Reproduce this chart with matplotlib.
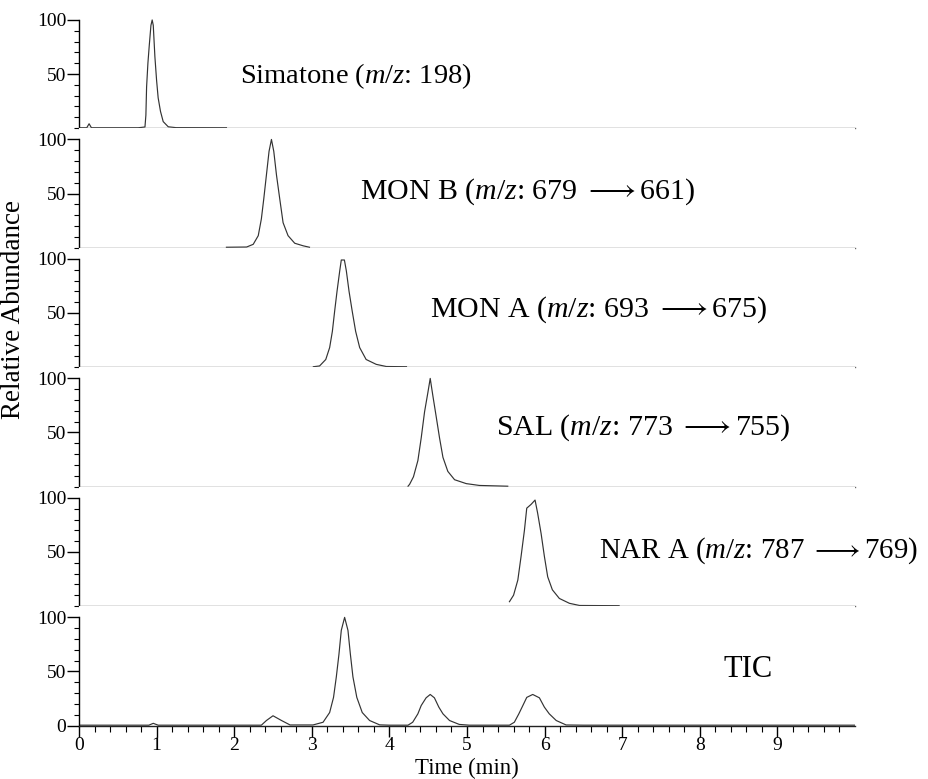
import matplotlib
matplotlib.use("Agg")
import matplotlib.pyplot as plt
from matplotlib.ticker import FixedLocator

plt.rcParams['font.family'] = ['Liberation Serif', 'DejaVu Serif']
plt.rcParams['mathtext.fontset'] = 'custom'
plt.rcParams['mathtext.rm'] = 'Liberation Serif'
plt.rcParams['mathtext.it'] = 'Liberation Serif:italic'
plt.rcParams['mathtext.fallback'] = 'stix'

# ---- data (time in min, relative abundance in %) ----
simatone_t = [0.0, 0.10, 0.13, 0.16, 0.20, 0.763, 0.85, 0.862, 0.871, 0.888, 0.905, 0.927, 0.943,
              0.957, 0.978, 1.0, 1.02, 1.05, 1.085, 1.15, 1.25, 1.9]
simatone_v = [0.3, 0.3, 4, 0.3, 0.3, 0.3, 1, 12, 38, 60, 76, 95, 100,
              95, 66, 44, 28, 15.5, 6, 1.2, 0.4, 0.3]

monb_t = [1.9, 2.16, 2.245, 2.31, 2.35, 2.381, 2.415, 2.449, 2.48, 2.51, 2.545, 2.587, 2.63,
          2.694, 2.78, 2.89, 2.97]
monb_v = [0.3, 0.5, 3, 11, 26.5, 45, 67, 89, 100, 89, 67, 45, 23, 11, 4, 1.6, 0.3]

mona_t = [3.02, 3.10, 3.18, 3.23, 3.265, 3.295, 3.325, 3.36, 3.38, 3.42, 3.445, 3.48, 3.52,
          3.565, 3.617, 3.70, 3.83, 3.96, 4.22]
mona_v = [0.3, 1, 7, 18, 33, 52, 70, 89, 99, 99, 89, 70, 52, 33, 18, 7, 2.5, 0.5, 0.3]

sal_t = [4.24, 4.26, 4.31, 4.367, 4.41, 4.453, 4.496, 4.526, 4.56, 4.60, 4.646, 4.69, 4.753,
         4.84, 4.99, 5.16, 5.525]
sal_v = [0.3, 2, 9, 24, 45, 69, 87, 100, 84, 66, 45, 27, 14, 6.3, 2.7, 1, 0.3]

nara_t = [5.547, 5.60, 5.655, 5.697, 5.74, 5.77, 5.826, 5.877, 5.91, 5.955, 5.997, 6.04, 6.10,
          6.19, 6.32, 6.45, 6.96]
nara_v = [4, 10, 24, 46, 70, 90.5, 94, 98, 86, 67, 46, 27, 15, 7, 2.5, 0.5, 0.3]

tic_t = [0.0, 0.90, 0.957, 1.02, 2.35, 2.415, 2.50, 2.61, 2.72, 3.015, 3.145, 3.23, 3.28, 3.316,
         3.35, 3.38, 3.423, 3.466, 3.497, 3.53, 3.58, 3.65, 3.745, 3.874, 4.0, 4.24, 4.30, 4.367,
         4.41, 4.473, 4.526, 4.58, 4.637, 4.69, 4.775, 4.90, 5.03, 5.547, 5.61, 5.668, 5.72, 5.77,
         5.847, 5.933, 5.997, 6.06, 6.15, 6.277, 6.5, 10.0]
tic_v = [0.3, 0.3, 2, 0.3, 0.3, 4.6, 9, 4.6, 0.5, 0.5, 3, 12, 26, 45,
         66, 88, 100, 88, 66, 45, 26, 12, 4.6, 0.6, 0.3, 0.3, 3, 10.8,
         18.5, 25.6, 28.7, 25.6, 17, 10.8, 4.6, 1, 0.3, 0.3, 3, 10.8, 18.5, 26,
         28.7, 25.6, 17, 10.8, 4.6, 0.5, 0.3, 0.3]

labels = [r"Simatone ($\mathit{m/z}$: 198)",
          r"MON B ($\mathit{m/z}$: 679 $\longrightarrow$661)",
          r"MON A ($\mathit{m/z}$: 693 $\longrightarrow$675)",
          r"SAL ($\mathit{m/z}$: 773 $\longrightarrow$755)",
          r"NAR A ($\mathit{m/z}$: 787 $\longrightarrow$769)",
          "TIC"]
traces = [(simatone_t, simatone_v), (monb_t, monb_v), (mona_t, mona_v),
          (sal_t, sal_v), (nara_t, nara_v), (tic_t, tic_v)]
label_pos = [(2.07, 48), (3.62, 52), (4.52, 53), (5.38, 54), (6.70, 51), (8.30, 52)]
label_size = [20.5, 21.5, 21.5, 21.5, 20.8, 22]
x_ticks = [0, 1, 2, 3, 4, 5, 6, 7, 8, 9]

W, H = 929, 779
fig = plt.figure(figsize=(W / 100, H / 100), dpi=100)
left, right = 79 / W, 855 / W
top_px, bot_px = 8.6, 725.5
n = len(traces)
ph = (bot_px - top_px) / n
axes = []
for i in range(n):
    y0 = 1 - (top_px + (i + 1) * ph) / H
    ax = fig.add_axes([left, y0, right - left, ph / H])
    axes.append(ax)

for i, (ax, (t, v), lab, (lx, ly), fs) in enumerate(zip(axes, traces, labels, label_pos, label_size)):
    last = (i == n - 1)
    ax.plot(t, v, color='#333333', lw=0.85)
    ax.set_xlim(0, 10)
    ax.set_ylim(0, 110.5)
    for s in ['top', 'right']:
        ax.spines[s].set_visible(False)
    ax.spines['left'].set_bounds(0, 100)
    ax.spines['left'].set_linewidth(1.0)
    ax.spines['bottom'].set_color('#222222' if last else '#666666')
    ax.spines['bottom'].set_linewidth(1.0)
    if last:
        ax.yaxis.set_major_locator(FixedLocator([0, 50, 100]))
    else:
        ax.yaxis.set_major_locator(FixedLocator([50, 100]))
    ax.yaxis.set_minor_locator(FixedLocator([0, 10, 20, 30, 40, 60, 70, 80, 90]))
    ax.tick_params(axis='y', which='major', direction='out', length=8.5, width=1,
                   labelsize=14, pad=0.5)
    ax.tick_params(axis='y', which='minor', direction='out', length=3.6, width=0.8)
    if last:
        ax.xaxis.set_major_locator(FixedLocator(x_ticks))
        ax.xaxis.set_minor_locator(FixedLocator([k * 0.2 for k in range(50) if k % 5 != 0]))
        ax.tick_params(axis='x', which='major', direction='out', length=8, width=1,
                       labelsize=14, pad=0)
        ax.tick_params(axis='x', which='minor', direction='out', length=4.5, width=0.8)
        ax.set_xlabel("Time (min)", fontsize=16.5, labelpad=3)
    else:
        ax.tick_params(axis='x', which='both', bottom=False, labelbottom=False)
    ax.text(lx, ly, lab, fontsize=fs, ha='left', va='center')

fig.text(14 / W, 1 - 310 / H, "Relative Abundance", rotation=90, fontsize=19.5,
         ha='center', va='center')

fig.savefig("out.png", dpi=100)
